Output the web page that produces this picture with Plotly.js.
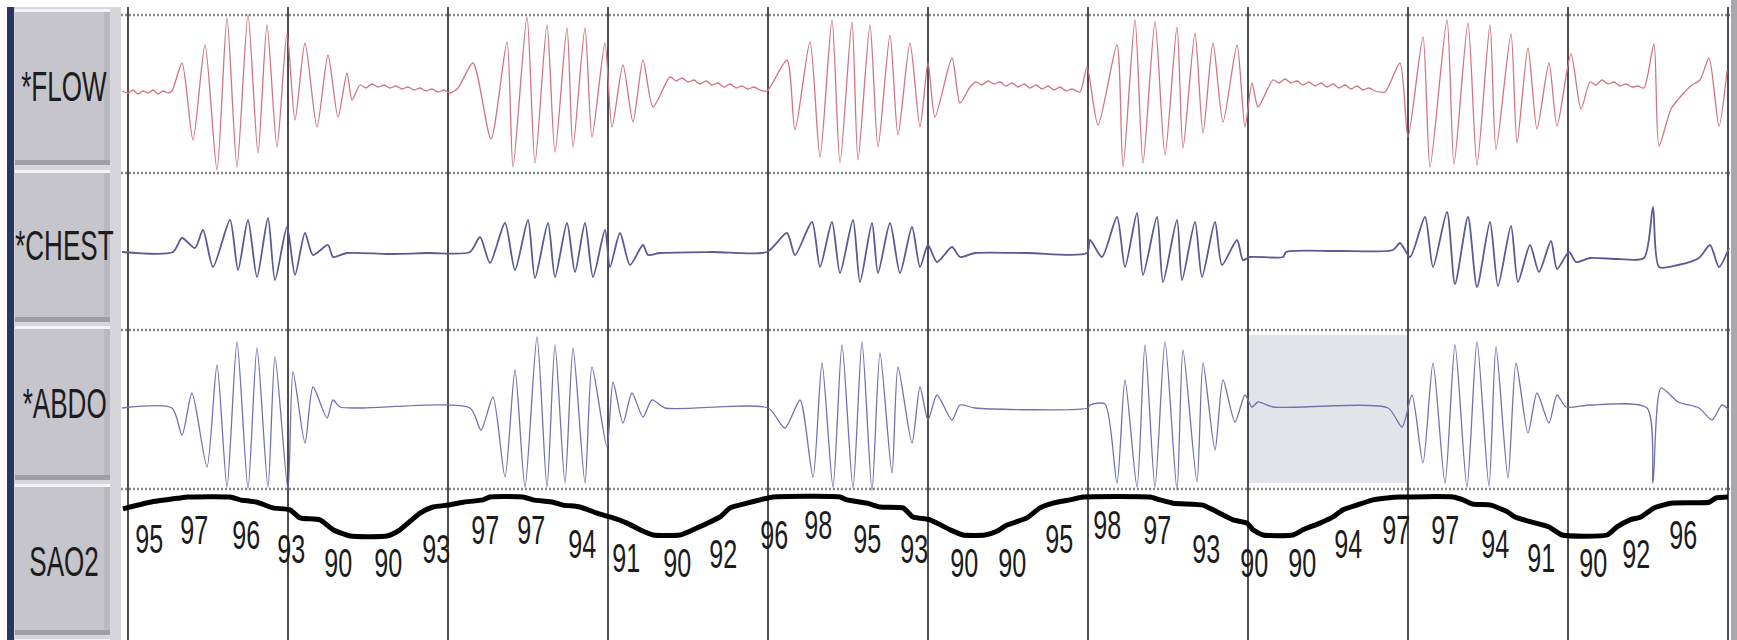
<!DOCTYPE html>
<html><head><meta charset="utf-8">
<script src="https://cdn.plot.ly/plotly-3.0.1.min.js"></script>
<style>html,body{margin:0;padding:0;background:#fff;overflow:hidden}#chart{width:1737px;height:640px}</style>
</head><body><div id="chart"></div>
<script>
// ---- DATA (x = sample index, 160 samples per epoch; waveform values in raw amplitude units) ----
const channelNames = ['*FLOW', '*CHEST', '*ABDO', 'SAO2'];
const epochCount = 10;
const epochLen = 160;
const shadedEpochs = [7];

const flowT = [-6,0,5,10,15,20,25,30,35,40,44,
 54,65,77,89,99,109,120,130,139,149,159,167,177,189,200,210,219,224,
 232,238,244,250,256,262,268,274,280,286,292,298,304,310,316,322,330,
 345,363,379,385,399,407,419,427,439,445,457,464,477,484,495,505,515,525,
 542,548,554,560,566,572,578,584,590,596,602,608,614,620,626,632,639,
 659,667,682,692,704,712,724,730,742,750,762,770,782,792,800,807,824,832,
 842,848,854,860,866,872,878,884,890,896,902,908,914,920,926,932,938,944,952,
 959,970,989,995,1007,1015,1027,1037,1049,1055,1067,1075,1085,1095,1109,1117,1124,1130,
 1145,1151,1157,1163,1169,1175,1181,1187,1193,1199,1205,1211,1217,1223,1229,1235,1241,1247,1257,
 1272,1280,1295,1302,1319,1326,1340,1349,1362,1368,1383,1389,1400,1409,1421,1429,1443,1453,
 1462,1468,1474,1480,1486,1492,1498,1504,1510,1516,
 1526,1531,1543,1554,1564,1572,1581,1591,1599];
const flowV = [-1,-3,0,-4,-1,-3,0,-4,-1,-3,-1,
 27,-50,45,-80,72,-77,75,-63,65,-57,57,-30,47,-37,35,-27,17,-10,
 5,2,6,3,5,2,4,1,3,0,2,-1,1,-2,0,-3,2,
 27,-49,48,-77,73,-73,65,-62,62,-57,62,-47,47,-37,25,-32,30,-17,
 13,9,12,8,10,6,9,5,7,3,6,2,4,1,3,0,-1,
 30,-40,48,-67,70,-73,68,-70,65,-57,55,-45,47,-37,27,-27,32,-13,
 3,8,5,9,6,8,4,7,3,6,2,5,1,4,0,3,-1,1,-2,
 23,-35,45,-77,70,-73,68,-65,63,-58,57,-43,47,-32,45,-37,7,-17,
 10,7,11,7,9,5,8,4,7,3,6,2,5,1,4,0,2,-1,-2,
 27,-47,53,-77,70,-74,67,-75,65,-59,56,-53,42,-39,27,-36,36,-19,
 8,5,10,6,8,4,6,3,4,2,
 46,-56,-19,-5,5,10,32,-36,19];

const chestT = [-6,45,54,67,75,85,102,110,120,129,140,147,159,167,177,185,200,205,219,260,300,
 342,352,362,377,387,400,407,420,427,439,447,457,465,477,482,492,502,515,520,532,585,639,
 659,667,684,692,704,712,725,732,744,750,762,772,784,792,800,809,824,832,847,900,959,
 962,974,989,997,1009,1015,1029,1035,1049,1054,1067,1074,1087,1094,1109,1115,1122,1155,1158,1210,1265,
 1272,1282,1297,1305,1319,1327,1340,1349,1362,1370,1383,1390,1402,1411,1423,1429,1441,1448,1462,1490,1516,
 1525,1531,1550,1571,1582,1591,1601];
const chestV = [1,1,15,5,23,-14,33,-17,33,-24,35,-27,26,-22,20,-2,8,-4,0,-1,0,
 1,16,-10,30,-17,33,-25,30,-24,30,-19,30,-24,23,-14,20,-12,8,-2,0,1,1,
 20,-2,31,-14,31,-20,33,-29,30,-20,30,-20,26,-14,8,-9,6,-4,0,0,0,
 13,-4,36,-14,40,-22,36,-29,33,-27,31,-24,31,-12,13,-7,-4,-4,1,2,3,
 10,-4,36,-14,41,-31,36,-34,31,-33,27,-29,8,-19,12,-16,1,-9,-5,-6,-5,
 46,-14,-12,-5,8,-14,5];

const abdoT = [-6,44,54,64,79,89,99,109,120,129,140,147,160,165,177,185,199,205,212,234,
 342,353,365,377,387,397,409,419,427,437,445,457,464,479,485,495,504,515,524,537,
 640,657,672,685,694,705,714,725,734,744,752,764,770,784,792,800,809,824,832,847,
 960,962,977,989,997,1009,1017,1027,1037,1049,1055,1069,1075,1087,1095,1107,1117,1124,1130,1145,
 1260,1274,1284,1295,1305,1317,1327,1339,1349,1361,1368,1380,1388,1400,1409,1421,1429,1438,1462,
 1519,1525,1533,1550,1571,1584,1594,1601];
const abdoV = [0,0,-27,15,-59,43,-79,66,-80,60,-79,51,-82,36,-35,21,-10,8,1,0,
 0,-22,11,-69,38,-79,71,-79,63,-75,60,-75,41,-39,26,-15,15,-9,8,0,
 0,-20,8,-69,45,-79,63,-80,66,-82,55,-65,41,-35,21,-12,13,-12,3,0,
 0,3,4,-75,28,-79,63,-79,66,-82,58,-74,45,-42,28,-14,13,1,6,1,
 0,-19,13,-55,45,-75,63,-79,66,-78,61,-70,45,-25,15,-15,13,1,3,
 0,-75,20,6,0,-12,3,-2];

const sao2T = [-5,22,52,59,102,112,129,145,162,172,192,205,222,259,272,292,305,320,335,355,362,
 395,405,425,435,452,469,482,499,512,525,552,565,592,602,619,632,645,
 712,719,739,752,775,785,802,822,835,857,869,879,899,912,925,942,955,
 1022,1032,1045,1075,1085,1105,1119,1125,1135,1165,1175,1192,1205,1215,1229,1245,1259,1272,
 1325,1335,1345,1363,1375,1380,1387,1404,1421,1434,1479,1489,1502,1513,1526,1543,1581,1588,1600];
const sao2V = [95.5,96.9,97.8,98.0,98.0,97.4,96.9,95.7,95.3,93.6,93.2,91.1,89.8,89.8,91.1,94.6,95.9,96.3,96.9,97.4,98.0,
 98.0,97.4,96.9,96.3,95.9,94.6,93.8,92.5,91.1,90.0,90.0,91.1,93.8,95.7,96.7,97.4,98.0,
 98.0,97.4,96.7,95.9,95.7,93.8,93.2,91.1,90.0,90.0,90.8,92.1,93.6,95.7,96.7,97.4,98.0,
 98.0,97.4,96.7,96.3,95.3,93.2,92.5,91.1,90.0,90.0,91.1,92.5,93.8,95.3,96.3,97.4,97.8,98.0,
 98.0,97.4,96.5,96.3,95.3,94.8,93.8,92.7,91.7,90.0,90.0,91.7,93.2,93.8,95.7,96.7,96.9,97.8,98.0];

const sao2LabelT = [21,66,118,163,210,260,308,357,403,454,498,549,595,646,690,739,786,836,884,931,
 979,1029,1078,1126,1174,1220,1268,1317,1367,1413,1465,1508,1555];
const sao2LabelV = [95,97,96,93,90,90,93,97,97,94,91,90,92,96,98,95,93,90,90,95,
 98,97,93,90,90,94,97,97,94,91,90,92,96];

// ---- LAYOUT ----
const W = 1737, H = 640;
const PX = p => p / W, PY = p => 1 - p / H;
const FONT = '"Liberation Sans", Arial, "DejaVu Sans", sans-serif';

function rowAxis(top, bottom, base) {
  return {domain: [PY(bottom), PY(top)], range: [base - bottom, base - top],
          visible: false, fixedrange: true, showgrid: false, zeroline: false};
}
const spo2PxPerUnit = 4.75, spo2RefPx = 535, spo2RefVal = 90;
const sao2Axis = {domain: [PY(640), PY(489)],
  range: [spo2RefVal + (spo2RefPx - 640) / spo2PxPerUnit, spo2RefVal + (spo2RefPx - 489) / spo2PxPerUnit],
  visible: false, fixedrange: true, showgrid: false, zeroline: false};

const wave = {shape: 'spline', smoothing: 0.7};
const traces = [
  {x: flowT, y: flowV, xaxis: 'x', yaxis: 'y', mode: 'lines', line: Object.assign({color: '#d27482', width: 1.3}, wave), hoverinfo: 'skip'},
  {x: chestT, y: chestV, xaxis: 'x', yaxis: 'y2', mode: 'lines', line: Object.assign({color: '#5a5a96', width: 1.8}, wave), hoverinfo: 'skip'},
  {x: abdoT, y: abdoV, xaxis: 'x', yaxis: 'y3', mode: 'lines', line: Object.assign({color: '#7272b2', width: 1.3}, wave), hoverinfo: 'skip'},
  {x: sao2T, y: sao2V, xaxis: 'x', yaxis: 'y4', mode: 'lines', line: {color: '#000000', width: 5, shape: 'spline', smoothing: 0.5}, hoverinfo: 'skip'}
];

const shapes = [];
function rect(x0, x1, y0, y1, fill, layer) {
  shapes.push({type: 'rect', xref: 'paper', yref: 'paper', x0: PX(x0), x1: PX(x1), y0: PY(y1), y1: PY(y0),
               fillcolor: fill, line: {width: 0}, layer: layer || 'above'});
}
// left label panel
rect(7, 14, 7, 640, '#2a3466');
rect(14, 121, 7, 640, '#d5d5da');
[[9,165],[170,322],[326,480],[484,635],[639,700]].forEach(b => {
  rect(15, 110, b[0], b[1], '#c5c5cb');
  rect(104, 110, b[0] + 3, b[1] - 5, '#b9b9bf');
  rect(15, 110, b[0], b[0] + 3, '#f3f3f5');
  rect(15, 110, b[1] - 5, b[1], '#9e9ea6');
});
// right edge bar
rect(1731, 1737, 0, 640, '#a9a9ab');
// shaded epoch on ABDO
shadedEpochs.forEach(e => {
  shapes.push({type: 'rect', xref: 'x', yref: 'paper', x0: e * epochLen, x1: (e + 1) * epochLen,
    y0: PY(483), y1: PY(335), fillcolor: '#e2e4ea', line: {width: 0}, layer: 'below'});
});
// dotted channel separators
[15, 173, 330, 489].forEach(py => {
  shapes.push({type: 'line', xref: 'paper', yref: 'paper', x0: PX(121), x1: PX(1730), y0: PY(py), y1: PY(py),
    line: {color: '#858585', width: 2.5, dash: '2px,2px'}, layer: 'below'});
});
// epoch boundary lines
for (let k = 0; k <= epochCount; k++) {
  shapes.push({type: 'line', xref: 'x', yref: 'paper', x0: k * epochLen, x1: k * epochLen, y0: 0, y1: PY(7),
    line: {color: '#3a3a3a', width: 1.8}, layer: 'below'});
}

const annotations = [];
[86, 245, 403, 561].forEach((cy, i) => {
  annotations.push({text: channelNames[i], xref: 'paper', yref: 'paper', x: PX(64), y: PY(cy),
    xanchor: 'center', yanchor: 'middle', showarrow: false,
    font: {family: FONT, size: 42, color: '#1c1c1c'}});
});
sao2LabelT.forEach((t, i) => {
  annotations.push({text: String(sao2LabelV[i]), xref: 'x', yref: 'y4', x: t, y: sao2LabelV[i],
    yshift: -28, xanchor: 'center', yanchor: 'middle', showarrow: false,
    font: {family: FONT, size: 40, color: '#1c1c1c'}});
});

const layout = {
  width: W, height: H, margin: {l: 0, r: 0, t: 0, b: 0, pad: 0},
  paper_bgcolor: '#ffffff', plot_bgcolor: 'rgba(0,0,0,0)', showlegend: false,
  xaxis: {domain: [PX(120), PX(1730)], range: [-8, 1602], visible: false, fixedrange: true, showgrid: false, zeroline: false},
  yaxis: rowAxis(5, 173, 90),
  yaxis2: rowAxis(173, 330, 253),
  yaxis3: rowAxis(330, 495, 408),
  yaxis4: sao2Axis,
  shapes: shapes,
  annotations: annotations
};

Plotly.newPlot('chart', traces, layout, {staticPlot: true, displayModeBar: false}).then(gd => {
  // the original display uses a tall, horizontally condensed typeface
  const condense = (el, f) => {
    const w = el.getComputedTextLength();
    el.setAttribute('textLength', (w * f).toFixed(1));
    el.setAttribute('lengthAdjust', 'spacingAndGlyphs');
  };
  gd.querySelectorAll('.annotation-text').forEach((el, i) => condense(el, i < 4 ? 0.62 : 0.63));
});
</script>
</body></html>
